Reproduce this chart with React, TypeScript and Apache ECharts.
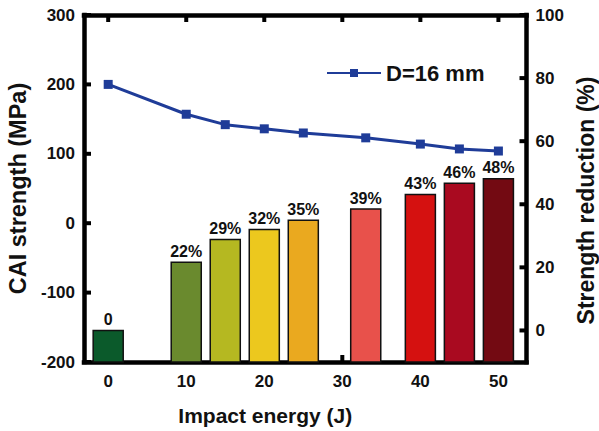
import React, { useEffect, useRef } from "react";
import * as echarts from "echarts";

const energies = [0, 10, 15, 20, 25, 33, 40, 45, 50];
const caiStrength = [200, 157, 142, 136, 130, 123, 114, 107, 104];
const reduction = [0, 21.6, 28.8, 32, 34.9, 38.5, 43.1, 46.7, 48.1];
const reductionLabels = ["0", "22%", "29%", "32%", "35%", "39%", "43%", "46%", "48%"];
const barColors = ["#0b5a2b", "#6a8a2e", "#b5b821", "#ecc81e", "#eaa91f", "#e8514b", "#d51110", "#a90a20", "#730a12"];
const xTicks = [0, 10, 20, 30, 40, 50];
const leftTicks = [-200, -100, 0, 100, 200, 300];
const rightTicks = [0, 20, 40, 60, 80, 100];
const seriesName = "D=16 mm";

const FONT = "'Liberation Sans', Arial, sans-serif";
const RIGHT_MIN = -10;
const BAR_W = 3.85;
const TICK_LEN = 7;
const TICK_W = 4;

export default function App() {
  const ref = useRef<HTMLDivElement>(null);
  useEffect(() => {
    document.body.style.margin = "0";
    const chart = echarts.init(ref.current!, null, { renderer: "svg" });
    const axisLine = () => ({ show: true, onZero: false, lineStyle: { color: "#000", width: 4.5, cap: "square" } });
    const noTick = { show: false };
    const labelStyle = { color: "#111", fontSize: 17, fontWeight: "bold", fontFamily: FONT };
    const tickStyle = { fill: "#000" };
    chart.setOption({
      animation: false,
      backgroundColor: "#fff",
      grid: { left: 84, right: 72.5, top: 15, bottom: 69, containLabel: false, outerBoundsMode: "none" },
      legend: {
        data: [seriesName],
        left: 321,
        top: 57,
        itemWidth: 54,
        itemHeight: 10,
        itemGap: 6,
        textStyle: { color: "#111", fontSize: 22, fontWeight: "bold", fontFamily: FONT },
      },
      xAxis: [
        {
          type: "value",
          position: "bottom",
          min: -3.1,
          max: 53.6,
          name: "Impact energy (J)",
          nameLocation: "middle",
          nameGap: 43,
          nameTextStyle: { color: "#111", fontSize: 21, fontWeight: "bold", fontFamily: FONT, padding: [0, 80, 0, 0] },
          axisLine: axisLine(),
          axisTick: noTick,
          axisLabel: { ...labelStyle, margin: 11, customValues: xTicks },
          splitLine: { show: false },
        },
        {
          type: "value",
          position: "top",
          min: -3.1,
          max: 53.6,
          axisLine: axisLine(),
          axisTick: noTick,
          axisLabel: { show: false },
          splitLine: { show: false },
        },
      ],
      yAxis: [
        {
          type: "value",
          position: "left",
          min: -200,
          max: 300,
          interval: 100,
          name: "CAI strength (MPa)",
          nameLocation: "middle",
          nameRotate: 90,
          nameGap: 48,
          nameTextStyle: { color: "#111", fontSize: 23.5, fontWeight: "bold", fontFamily: FONT },
          axisLine: axisLine(),
          axisTick: noTick,
          axisLabel: { ...labelStyle, margin: 9, showMinLabel: true, showMaxLabel: true },
          splitLine: { show: false },
        },
        {
          type: "value",
          position: "right",
          min: RIGHT_MIN,
          max: 100,
          name: "Strength reduction (%)",
          nameLocation: "middle",
          nameRotate: 90,
          nameGap: 46,
          nameTextStyle: { color: "#111", fontSize: 23, fontWeight: "bold", fontFamily: FONT, padding: [0, 24, 0, 0] },
          axisLine: axisLine(),
          axisTick: noTick,
          axisLabel: { ...labelStyle, margin: 9, customValues: rightTicks },
          splitLine: { show: false },
        },
      ],
      series: [
        {
          type: "custom",
          name: "xTicks",
          silent: true,
          xAxisIndex: 0,
          yAxisIndex: 0,
          z: 2,
          encode: { x: 0, y: 1 },
          data: xTicks.map((v) => [v, 0]),
          renderItem: (params: any, api: any) => {
            const cs = params.coordSys;
            const px = api.coord([api.value(0), api.value(1)])[0];
            return {
              type: "group",
              children: [
                { type: "rect", shape: { x: px - TICK_W / 2, y: cs.y, width: TICK_W, height: TICK_LEN }, style: tickStyle },
                { type: "rect", shape: { x: px - TICK_W / 2, y: cs.y + cs.height - TICK_LEN, width: TICK_W, height: TICK_LEN }, style: tickStyle },
              ],
            };
          },
        },
        {
          type: "custom",
          name: "leftTicks",
          silent: true,
          xAxisIndex: 0,
          yAxisIndex: 0,
          z: 2,
          encode: { x: 0, y: 1 },
          data: leftTicks.map((v) => [0, v]),
          renderItem: (params: any, api: any) => {
            const cs = params.coordSys;
            const py = api.coord([api.value(0), api.value(1)])[1];
            return { type: "rect", shape: { x: cs.x, y: py - TICK_W / 2, width: TICK_LEN, height: TICK_W }, style: tickStyle };
          },
        },
        {
          type: "custom",
          name: "rightTicks",
          silent: true,
          xAxisIndex: 0,
          yAxisIndex: 1,
          z: 2,
          encode: { x: 0, y: 1 },
          data: rightTicks.map((v) => [0, v]),
          renderItem: (params: any, api: any) => {
            const cs = params.coordSys;
            const py = api.coord([api.value(0), api.value(1)])[1];
            return {
              type: "rect",
              shape: { x: cs.x + cs.width - TICK_LEN, y: py - TICK_W / 2, width: TICK_LEN, height: TICK_W },
              style: tickStyle,
            };
          },
        },
        {
          type: "custom",
          name: "reduction",
          xAxisIndex: 0,
          yAxisIndex: 1,
          z: 3,
          encode: { x: 0, y: 1 },
          data: energies.map((e, i) => [e, reduction[i]]),
          renderItem: (params: any, api: any) => {
            const idx = params.dataIndex;
            const x = api.value(0);
            const v = api.value(1);
            const top = api.coord([x, v]);
            const base = api.coord([x, RIGHT_MIN]);
            const w = api.size([BAR_W, 0])[0];
            return {
              type: "group",
              children: [
                {
                  type: "rect",
                  shape: { x: top[0] - w / 2, y: top[1], width: w, height: base[1] - top[1] },
                  style: { fill: barColors[idx], stroke: "#111", lineWidth: 1.5 },
                },
                {
                  type: "text",
                  x: top[0],
                  y: top[1] - 3,
                  style: {
                    text: reductionLabels[idx],
                    fill: "#111",
                    font: `bold 16px ${FONT}`,
                    align: "center",
                    verticalAlign: "bottom",
                  },
                },
              ],
            };
          },
        },
        {
          type: "line",
          name: seriesName,
          xAxisIndex: 0,
          yAxisIndex: 0,
          z: 4,
          data: energies.map((e, i) => [e, caiStrength[i]]),
          symbol: "rect",
          symbolSize: 9,
          lineStyle: { color: "#1f3c98", width: 3 },
          itemStyle: { color: "#1f3c98" },
        },
      ],
    });
    return () => chart.dispose();
  }, []);
  return <div ref={ref} style={{ position: "absolute", left: 0, top: 0, width: 599, height: 431 }} />;
}
